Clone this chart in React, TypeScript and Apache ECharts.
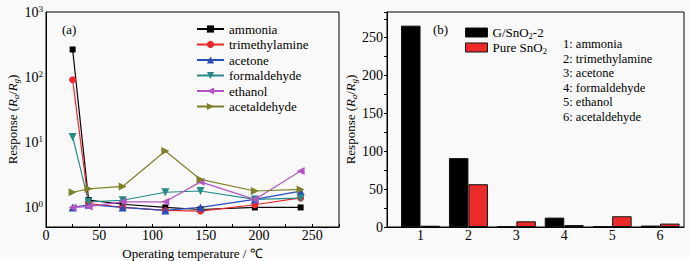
import React, { useEffect, useRef } from 'react';
import * as echarts from 'echarts';

// ---------- data ----------
const temperatures = [25, 40, 72, 112, 145, 196, 239];
const gasNames = ['ammonia', 'trimethylamine', 'acetone', 'formaldehyde', 'ethanol', 'acetaldehyde'];
const ammonia = [266, 1.3, 1.12, 1.0, 0.93, 1.0, 1.0];
const trimethylamine = [91, 1.15, 1.0, 0.9, 0.88, 1.1, 1.4];
const acetone = [1.0, 1.1, 1.0, 0.9, 1.0, 1.33, 1.78];
const formaldehyde = [12.1, 1.22, 1.29, 1.71, 1.79, 1.33, 1.39];
const ethanol = [1.0, 1.03, 1.22, 1.22, 2.47, 1.33, 3.63];
const acetaldehyde = [1.71, 1.93, 2.1, 7.36, 2.69, 1.79, 1.89];
const gasSeriesValues = [ammonia, trimethylamine, acetone, formaldehyde, ethanol, acetaldehyde];
// log axis range (response): 10^-0.3 .. 10^3
const logMinExp = -0.3;
const logMaxExp = 3;

const barCategories = [1, 2, 3, 4, 5, 6];
const barSeriesNames = ['G/SnO2-2', 'Pure SnO2'];
const gSnO2 = [266, 91, 0.8, 12.4, 0.9, 1.9];
const pureSnO2 = [1.7, 56.5, 7.5, 2.6, 14.2, 4.5];
const gasList = ['1: ammonia', '2: trimethylamine', '3: acetone', '4: formaldehyde', '5: ethanol', '6: acetaldehyde'];

// ---------- styles ----------
const FONT = "'Liberation Serif', serif";
const lineLooks = [
  { color: '#000000', symbol: 'rect', size: 6, rotate: 0 },
  { color: '#ee2828', symbol: 'circle', size: 7, rotate: 0 },
  { color: '#2a4cbc', symbol: 'triangle', size: 8, rotate: 0 },
  { color: '#268a8a', symbol: 'triangle', size: 8, rotate: 180 },
  { color: '#b456c4', symbol: 'triangle', size: 8, rotate: 90 },
  { color: '#80802a', symbol: 'triangle', size: 8, rotate: -90 },
];
const barColors = ['#000000', '#ec2a2a'];

const nameRich = {
  n: { fontFamily: FONT, fontSize: 13, color: '#000', lineHeight: 16 },
  i: { fontFamily: FONT, fontSize: 13, color: '#000', lineHeight: 16, fontStyle: 'italic' },
  s: { fontFamily: FONT, fontSize: 8.5, color: '#000', lineHeight: 8, verticalAlign: 'bottom', fontStyle: 'italic' },
};
const responseName = '{n|Response (}{i|R}{s|a}{n|/}{i|R}{s|g}{n|)}';

export default function App() {
  const ref = useRef<HTMLDivElement>(null);
  useEffect(() => {
    if (!ref.current) return;
    const chart = echarts.init(ref.current, null, { renderer: 'svg' });

    const lineSeries = gasNames.map((name, k) => ({
      type: 'line',
      name,
      xAxisIndex: 0,
      yAxisIndex: 0,
      data: temperatures.map((t, i) => [t, Math.log10(gasSeriesValues[k][i])]),
      symbol: lineLooks[k].symbol,
      symbolSize: lineLooks[k].size,
      symbolRotate: lineLooks[k].rotate,
      itemStyle: { color: lineLooks[k].color },
      lineStyle: { color: lineLooks[k].color, width: 1.2 },
      emphasis: { disabled: true },
      z: 3,
    }));

    const barSeries = barSeriesNames.map((name, k) => ({
      type: 'bar',
      name,
      xAxisIndex: 1,
      yAxisIndex: 1,
      data: barCategories.map((c, i) => [c, (k === 0 ? gSnO2 : pureSnO2)[i]]),
      barWidth: 19.5,
      barGap: '0%',
      itemStyle: { color: barColors[k], borderColor: '#111', borderWidth: 1 },
      emphasis: { disabled: true },
    }));

    const tickFont = { fontFamily: FONT, fontSize: 14, color: '#000' };

    chart.setOption({
      animation: false,
      backgroundColor: '#ffffff',
      textStyle: { fontFamily: FONT },
      graphic: [
        { type: 'rect', shape: { x: 0, y: 0, width: 689, height: 257 }, style: { fill: '#f9f9f9' }, z: -10, silent: true },
        { type: 'text', x: 62, y: 29, style: { text: '(a)', fontFamily: FONT, fontSize: 13, fill: '#000', verticalAlign: 'middle' } },
        { type: 'text', x: 433, y: 29, style: { text: '(b)', fontFamily: FONT, fontSize: 13, fill: '#000', verticalAlign: 'middle' } },
        ...gasList.map((t, i) => ({
          type: 'text',
          x: 563,
          y: 44.3 + i * 14.5,
          style: { text: t, fontFamily: FONT, fontSize: 12.5, fill: '#000', verticalAlign: 'middle' },
        })),
      ],
      grid: [
        { left: 46, top: 12, width: 293, height: 215, show: true, borderColor: '#000', borderWidth: 1, backgroundColor: 'transparent', outerBoundsMode: 'none', containLabel: false },
        { left: 387, top: 12, width: 297, height: 215, show: true, borderColor: '#000', borderWidth: 1, backgroundColor: 'transparent', outerBoundsMode: 'none', containLabel: false },
      ],
      legend: [
        {
          data: gasNames,
          orient: 'vertical',
          left: 191,
          top: 17.5,
          itemWidth: 27,
          itemHeight: 9,
          itemGap: 2.5,
          textStyle: { fontFamily: FONT, fontSize: 13, color: '#000' },
          selectedMode: false,
        },
        {
          data: barSeriesNames,
          orient: 'vertical',
          left: 460,
          top: 21,
          itemWidth: 22,
          itemHeight: 9,
          itemGap: 0.5,
          icon: 'rect',
          itemStyle: { borderColor: '#111', borderWidth: 1 },
          selectedMode: false,
          formatter: (name: string) =>
            name === 'G/SnO2-2' ? '{n|G/SnO}{s|2}{n|-2}' : '{n|Pure SnO}{s|2}',
          textStyle: {
            fontFamily: FONT,
            rich: {
              n: { fontFamily: FONT, fontSize: 13, color: '#000', lineHeight: 16 },
              s: { fontFamily: FONT, fontSize: 8.5, color: '#000', lineHeight: 8, verticalAlign: 'bottom' },
            },
          },
        },
      ],
      xAxis: [
        {
          type: 'value',
          gridIndex: 0,
          min: 0,
          max: 275,
          interval: 25,
          axisLine: { show: true, onZero: false, lineStyle: { color: '#000', width: 1 } },
          axisTick: { show: true, inside: true, length: 3, lineStyle: { color: '#000' } },
          splitLine: { show: false },
          axisLabel: {
            ...tickFont,
            margin: 1,
            formatter: (v: number) => (v % 50 === 0 && v <= 250 ? String(v) : ''),
          },
          name: 'Operating temperature / \u2103',
          nameLocation: 'middle',
          nameGap: 11,
          nameTextStyle: { fontFamily: FONT, fontSize: 13, color: '#000' },
        },
        {
          type: 'value',
          gridIndex: 1,
          min: 0.3,
          max: 6.5,
          interval: 0.1,
          axisLine: { show: true, onZero: false, lineStyle: { color: '#000', width: 1 } },
          axisTick: { show: false },
          splitLine: { show: false },
          axisLabel: {
            ...tickFont,
            margin: 1,
            formatter: (v: number) => (Math.abs(v - Math.round(v)) < 1e-6 ? String(Math.round(v)) : ''),
          },
        },
      ],
      yAxis: [
        {
          type: 'value',
          gridIndex: 0,
          min: logMinExp,
          max: logMaxExp,
          interval: 0.1,
          axisLine: { show: true, onZero: false, lineStyle: { color: '#000', width: 1 } },
          axisTick: { show: false },
          splitLine: { show: false },
          axisLabel: {
            margin: 3,
            formatter: (v: number) => {
              const e = Math.round(v);
              return Math.abs(v - e) < 1e-6 ? `{b|10}{p|${Math.abs(e)}}` : '';
            },
            rich: {
              b: { fontFamily: FONT, fontSize: 14, color: '#000', lineHeight: 15 },
              p: { fontFamily: FONT, fontSize: 9, color: '#000', lineHeight: 9, verticalAlign: 'top' },
            },
          },
          name: responseName,
          nameLocation: 'middle',
          nameRotate: 90,
          nameGap: 24,
          nameTextStyle: { rich: nameRich },
        },
        {
          type: 'value',
          gridIndex: 1,
          min: 0,
          max: 284,
          interval: 25,
          axisLine: { show: true, lineStyle: { color: '#000', width: 1 } },
          axisTick: { show: true, inside: false, length: 3, lineStyle: { color: '#000' } },
          splitLine: { show: false },
          axisLabel: {
            ...tickFont,
            margin: 4,
            formatter: (v: number) => (v % 50 === 0 ? String(v) : ''),
          },
          name: responseName,
          nameLocation: 'middle',
          nameRotate: 90,
          nameGap: 24,
          nameTextStyle: { rich: nameRich },
        },
      ],
      series: [...lineSeries, ...barSeries],
    });
    return () => chart.dispose();
  }, []);

  return (
    <div
      ref={ref}
      style={{ position: 'absolute', left: 0, top: 0, width: 698, height: 261 }}
    />
  );
}
